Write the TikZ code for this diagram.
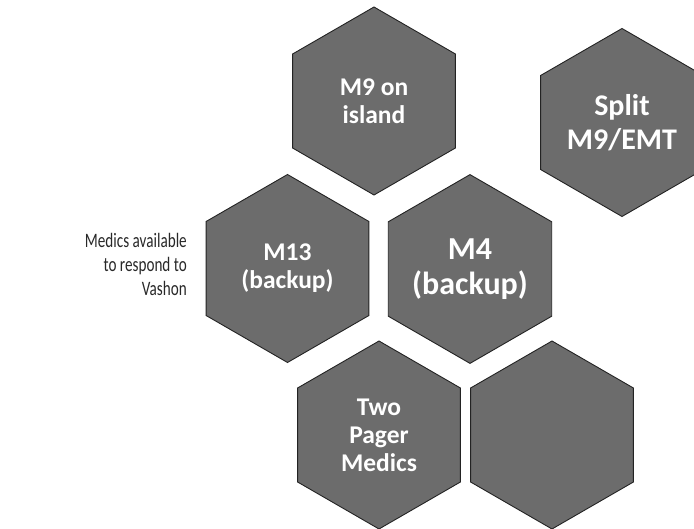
\documentclass[tikz,border=0pt]{standalone}
\usepackage{fontspec}
\setmainfont{Carlito}
\newfontfamily\narrowfont[FakeStretch=0.74]{Carlito}
\usetikzlibrary{shapes.geometric}
\definecolor{hexfill}{RGB}{108,108,108}
\definecolor{hexline}{RGB}{35,35,35}
\definecolor{labeltext}{RGB}{40,40,40}
\tikzset{
  hexbox/.style={regular polygon, regular polygon sides=6, regular polygon rotate=30,
    minimum size=188pt, inner sep=0pt, outer sep=0pt, fill=hexfill, draw=hexline,
    line width=0.9pt, text=white, align=center},
  hexsmall/.style={hexbox, font=\bfseries\fontsize{25.5}{28}\selectfont},
  hexmid/.style={hexbox, font=\bfseries\fontsize{30}{34}\selectfont},
  hexbig/.style={hexbox, font=\bfseries\fontsize{32}{35}\selectfont},
  sidelabel/.style={align=right, anchor=east, inner sep=0pt, text=labeltext,
    font=\narrowfont\fontsize{20.5}{24}\selectfont}
}
\begin{document}
\begin{tikzpicture}[x=1pt,y=-1pt]
\useasboundingbox (0,0) rectangle (694,529);
\node[hexsmall] (m9) at (374,101) {M9 on\\island};
\node[hexmid] (split) at (622,122.5) {Split\\M9/EMT};
\node[hexsmall] (m13) at (287.5,268.5) {M13\\(backup)};
\node[hexbig] (m4) at (470,269) {M4\\(backup)};
\node[hexsmall] (pager) at (379,435) {Two\\Pager\\Medics};
\node[hexbox] (blank) at (552,435) {};
\node[sidelabel] (medics) at (187,264) {Medics available\\to respond to\\Vashon};
\end{tikzpicture}
\end{document}
